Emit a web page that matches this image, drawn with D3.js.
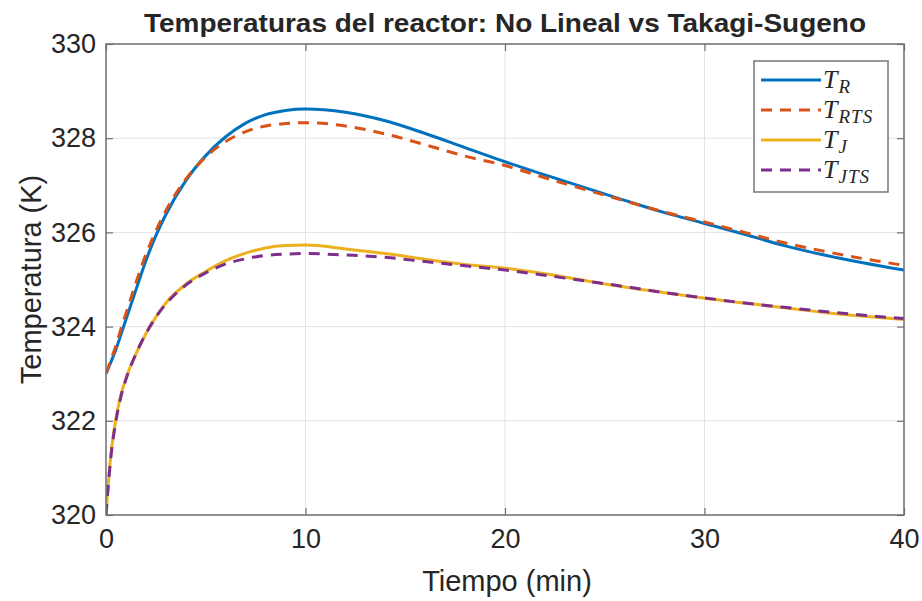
<!DOCTYPE html>
<html>
<head>
<meta charset="utf-8">
<script src="https://cdn.jsdelivr.net/npm/d3@7"></script>
<style>
  body { margin: 0; background: #fff; }
  text { font-family: "Liberation Sans", Arial, sans-serif; fill: #262626; }
</style>
</head>
<body>
<div id="chart"></div>
<script>
// time samples (min)
const tiempo = [0, 0.1, 0.25, 0.5, 0.75, 1, 1.5, 2, 2.5, 3, 4, 5, 6, 7, 8, 9, 10,
                12, 14, 16, 18, 20, 22, 24, 26, 28, 30, 32, 34, 36, 38, 40];

const tR   = [323.0, 323.1, 323.25, 323.52, 323.83, 324.15, 324.78, 325.4, 325.93, 326.38, 327.1, 327.63, 328.03, 328.32, 328.5, 328.59, 328.62,
              328.55, 328.37, 328.1, 327.8, 327.5, 327.22, 326.95, 326.68, 326.42, 326.19, 325.96, 325.72, 325.52, 325.35, 325.2];
const tRTS = [323.0, 323.12, 323.3, 323.6, 323.95, 324.28, 324.93, 325.53, 326.03, 326.46, 327.13, 327.6, 327.93, 328.14, 328.26, 328.31, 328.33,
              328.26, 328.09, 327.86, 327.62, 327.42, 327.16, 326.91, 326.67, 326.43, 326.22, 326.0, 325.78, 325.6, 325.44, 325.3];
const tJ   = [320.0, 320.6, 321.3, 322.05, 322.55, 322.9, 323.42, 323.85, 324.2, 324.5, 324.9, 325.17, 325.4, 325.56, 325.67, 325.72, 325.73,
              325.65, 325.55, 325.43, 325.32, 325.24, 325.12, 324.98, 324.84, 324.72, 324.6, 324.5, 324.4, 324.3, 324.22, 324.15];
const tJTS = [320.0, 320.55, 321.25, 322.0, 322.52, 322.88, 323.42, 323.85, 324.2, 324.48, 324.88, 325.14, 325.33, 325.44, 325.51, 325.54, 325.55,
              325.52, 325.47, 325.38, 325.29, 325.2, 325.09, 324.97, 324.85, 324.72, 324.61, 324.5, 324.41, 324.32, 324.24, 324.17];

const xTicks = [0, 10, 20, 30, 40];
const yTicks = [320, 322, 324, 326, 328, 330];

const series = [
  { name: "R",   values: tR,   color: "#0072BD", dash: null },
  { name: "RTS", values: tRTS, color: "#D95319", dash: "11,8" },
  { name: "J",   values: tJ,   color: "#EDB120", dash: null },
  { name: "JTS", values: tJTS, color: "#7E2F8E", dash: "11,8" }
];

const W = 922, H = 601;
const margin = { top: 44, right: 18, bottom: 86, left: 106 };
const wViz = W - margin.left - margin.right;
const hViz = H - margin.top - margin.bottom;

const svg = d3.select("#chart").append("svg")
  .attr("width", W)
  .attr("height", H);

const x = d3.scaleLinear().domain([0, 40]).range([0, wViz]);
const y = d3.scaleLinear().domain([320, 330]).range([hViz, 0]);

const g = svg.append("g").attr("transform", `translate(${margin.left},${margin.top})`);

// grid
g.append("g").selectAll("line").data(xTicks.slice(1, -1)).enter().append("line")
  .attr("x1", d => x(d)).attr("x2", d => x(d))
  .attr("y1", 0).attr("y2", hViz)
  .attr("stroke", "#e3e3e3").attr("stroke-width", 1);
g.append("g").selectAll("line").data(yTicks.slice(1, -1)).enter().append("line")
  .attr("y1", d => y(d)).attr("y2", d => y(d))
  .attr("x1", 0).attr("x2", wViz)
  .attr("stroke", "#e3e3e3").attr("stroke-width", 1);

// curves
svg.append("defs").append("clipPath").attr("id", "clip")
  .append("rect").attr("width", wViz).attr("height", hViz);

const line = d3.line()
  .x((d, i) => x(tiempo[i]))
  .y(d => y(d))
  .curve(d3.curveMonotoneX);

g.append("g").attr("clip-path", "url(#clip)")
  .selectAll("path").data(series).enter().append("path")
  .attr("d", d => line(d.values))
  .attr("fill", "none")
  .attr("stroke", d => d.color)
  .attr("stroke-width", 3)
  .attr("stroke-dasharray", d => d.dash);

// axes (box with inward ticks on all sides)
const axisColor = "#6e6e6e";
const tickLen = 7;
const styleAxis = sel => {
  sel.select(".domain").remove();
  sel.selectAll(".tick line").attr("stroke", axisColor).attr("stroke-width", 1.2);
  sel.selectAll(".tick text").attr("font-size", 27).attr("fill", "#262626")
    .attr("font-family", "Liberation Sans, Arial, sans-serif");
};

g.append("g").attr("transform", `translate(0,${hViz})`)
  .call(d3.axisBottom(x).tickValues(xTicks).tickSize(-tickLen).tickPadding(14).tickFormat(d3.format("d")))
  .call(styleAxis);
g.append("g")
  .call(d3.axisLeft(y).tickValues(yTicks).tickSize(-tickLen).tickPadding(10).tickFormat(d3.format("d")))
  .call(styleAxis);
g.append("g")
  .call(d3.axisTop(x).tickValues(xTicks).tickSize(-tickLen).tickFormat(""))
  .call(styleAxis);
g.append("g").attr("transform", `translate(${wViz},0)`)
  .call(d3.axisRight(y).tickValues(yTicks).tickSize(-tickLen).tickFormat(""))
  .call(styleAxis);

g.append("rect")
  .attr("width", wViz).attr("height", hViz)
  .attr("fill", "none").attr("stroke", axisColor).attr("stroke-width", 1.5);

// labels
svg.append("text")
  .attr("x", margin.left + wViz / 2).attr("y", 32)
  .attr("text-anchor", "middle")
  .attr("font-size", 26).attr("font-weight", "bold").attr("fill", "#000")
  .attr("textLength", 722).attr("lengthAdjust", "spacingAndGlyphs")
  .text("Temperaturas del reactor: No Lineal vs Takagi-Sugeno");

svg.append("text")
  .attr("x", margin.left + wViz / 2 + 2).attr("y", 591)
  .attr("text-anchor", "middle")
  .attr("font-size", 29)
  .text("Tiempo (min)");

svg.append("text")
  .attr("transform", `translate(41,${margin.top + hViz / 2}) rotate(-90)`)
  .attr("text-anchor", "middle")
  .attr("font-size", 29)
  .text("Temperatura (K)");

// legend
const legend = svg.append("g").attr("transform", "translate(754,61)");
legend.append("rect")
  .attr("width", 134).attr("height", 131)
  .attr("fill", "#fff").attr("stroke", "#777").attr("stroke-width", 1.5);

const items = legend.selectAll("g.item").data(series).enter().append("g")
  .attr("class", "item")
  .attr("transform", (d, i) => `translate(0,${19 + i * 30})`);
items.append("line")
  .attr("x1", 7).attr("x2", 67)
  .attr("stroke", d => d.color).attr("stroke-width", 3)
  .attr("stroke-dasharray", d => d.dash);
const lbl = items.append("text")
  .attr("x", 69).attr("y", 8)
  .style("font-family", "'Liberation Serif', 'DejaVu Serif', serif")
  .style("font-style", "italic")
  .attr("fill", "#000")
  .attr("font-size", 26);
lbl.append("tspan").text("T");
lbl.append("tspan").attr("dy", 5).attr("dx", 1).attr("font-size", 19)
  .attr("letter-spacing", 1).text(d => d.name);
</script>
</body>
</html>
